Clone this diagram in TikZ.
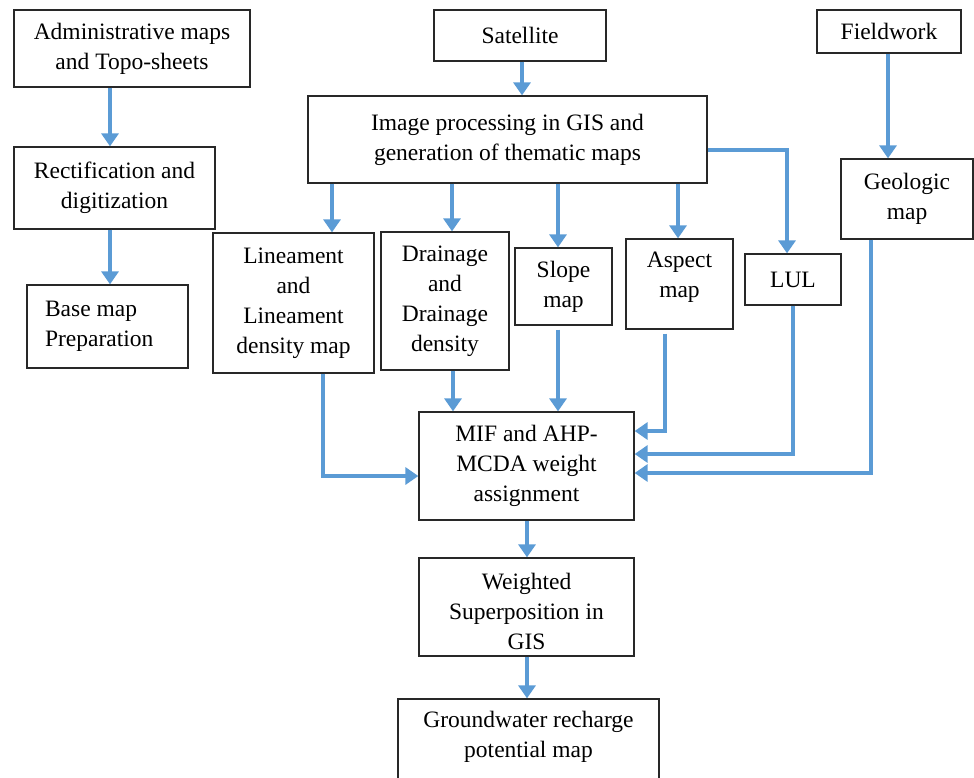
\documentclass[tikz,border=0pt]{standalone}
\usepackage{fontspec}
\setmainfont{Liberation Serif}
\usetikzlibrary{arrows.meta}
\definecolor{arrblue}{RGB}{91,155,213}
\definecolor{boxline}{RGB}{40,40,40}
\tikzset{
  box/.style={draw=boxline, line width=1.3pt, rectangle, inner sep=0pt, align=center,
    font=\fontsize{23.5}{30}\selectfont},
  arr/.style={draw=arrblue, line width=3.6pt, -{Triangle[width=17pt,length=13pt]}},
}
\begin{document}
\begin{tikzpicture}[x=1pt,y=-1pt]
\useasboundingbox (0,0) rectangle (974,777);
\clip (0,0) rectangle (974,777);
% boxes
\node[box, minimum width=236, minimum height=77] (admin) at (132,48.5) {Administrative maps\\and Topo-sheets};
\node[box, minimum width=201, minimum height=82] (rect) at (114.5,188) {Rectification and\\digitization};
\node[box, minimum width=161, minimum height=83, text width=125pt, inner xsep=18pt, align=flush left] (base) at (107.5,326.5) {Base map\\Preparation};
\node[box, minimum width=172, minimum height=51] (sat) at (520,35.5) {Satellite};
\node[box, minimum width=399, minimum height=87] (imgp) at (507.5,139.5) {Image processing in GIS and\\generation of thematic maps};
\node[box, minimum width=144, minimum height=43] (field) at (889,31.5) {Fieldwork};
\node[box, minimum width=132, minimum height=80] (geo) at (907,199) {Geologic\\map};
\node[box, minimum width=161, minimum height=140] (lin) at (293.5,303) {Lineament\\and\\Lineament\\density map};
\node[box, minimum width=128, minimum height=138] (drain) at (445,301) {Drainage\\and\\Drainage\\density};
\node[box, minimum width=97, minimum height=77] (slope) at (563.5,286.5) {Slope\\map};
\node[box, minimum width=107, minimum height=90, text depth=18pt] (aspect) at (679.5,284) {Aspect\\map};
\node[box, minimum width=96, minimum height=51] (lul) at (793,279.5) {LUL};
\node[box, minimum width=215, minimum height=108] (mif) at (526.5,466) {MIF and AHP-\\MCDA weight\\assignment};
\node[box, minimum width=215, minimum height=98] (wsup) at (526.5,607) {\rule{0pt}{26pt}Weighted\\Superposition in\\GIS};
\node[box, minimum width=261, minimum height=101] (gw) at (528.5,749.5) {Groundwater recharge\\potential map\\[1pt]};
% connectors
\draw[arr] (admin.south -| 110,0) -- (rect.north -| 110,0);
\draw[arr] (rect.south -| 110,0) -- (base.north -| 110,0);
\draw[arr] (sat.south -| 522,0) -- (imgp.north -| 522,0);
\draw[arr] (field.south -| 888,0) -- (geo.north -| 888,0);
\draw[arr] (imgp.south -| 332,0) -- (lin.north -| 332,0);
\draw[arr] (imgp.south -| 452,0) -- (drain.north -| 452,0);
\draw[arr] (imgp.south -| 558,0) -- (slope.north -| 558,0);
\draw[arr] (imgp.south -| 678,0) -- (aspect.north -| 678,0);
\draw[arr] (imgp.east |- 0,150) -- (787,150) -- (lul.north -| 787,0);
\draw[arr] (lin.south -| 323,0) |- (mif.west |- 0,476);
\draw[arr] (drain.south -| 453,0) -- (mif.north -| 453,0);
\draw[arr] ([yshift=-4pt]slope.south -| 558,0) -- (mif.north -| 558,0);
\draw[arr] ([yshift=-4pt]aspect.south -| 665,0) |- (mif.east |- 0,431);
\draw[arr] (lul.south -| 793,0) |- (mif.east |- 0,454);
\draw[arr] (geo.south -| 871,0) |- (mif.east |- 0,473);
\draw[arr] (mif.south -| 527,0) -- (wsup.north -| 527,0);
\draw[arr] (wsup.south -| 527,0) -- (gw.north -| 527,0);
\end{tikzpicture}
\end{document}
